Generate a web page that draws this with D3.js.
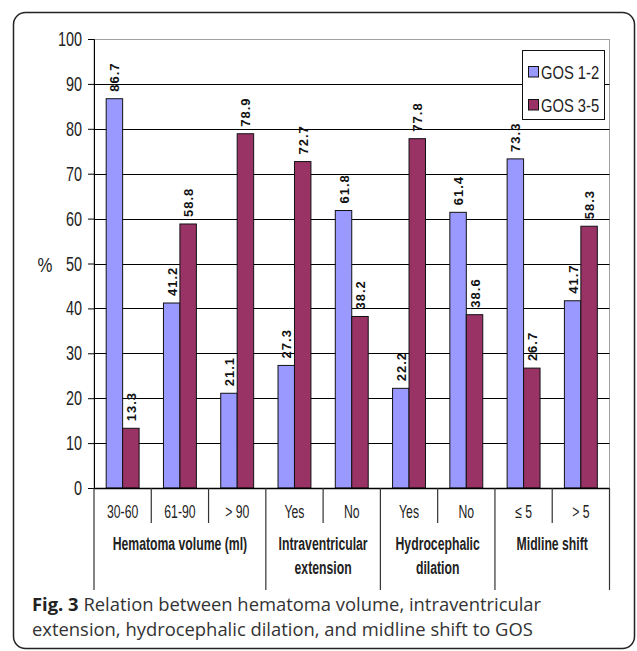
<!DOCTYPE html>
<html>
<head>
<meta charset="utf-8">
<script src="https://cdn.jsdelivr.net/npm/d3@7"></script>
<style>
  html, body { margin: 0; padding: 0; background: #fff; }
  svg { display: block; }
</style>
</head>
<body>
<svg id="chart" width="637" height="651"></svg>
<script>
// Outcome (GOS) by clinical / radiological finding, percent of patients
const categories = ["30-60", "61-90", "> 90", "Yes", "No", "Yes", "No", "\u2264 5", "> 5"];
const groups = [
  { label: ["Hematoma volume (ml)"], size: 3 },
  { label: ["Intraventricular", "extension"], size: 2 },
  { label: ["Hydrocephalic", "dilation"], size: 2 },
  { label: ["Midline shift"], size: 2 }
];
const seriesNames = ["GOS 1-2", "GOS 3-5"];
const gos12 = [86.7, 41.2, 21.1, 27.3, 61.8, 22.2, 61.4, 73.3, 41.7];
const gos35 = [13.3, 58.8, 78.9, 72.7, 38.2, 77.8, 38.6, 26.7, 58.3];
const yTicks = [0, 10, 20, 30, 40, 50, 60, 70, 80, 90, 100];
const colors = ["#9999FF", "#993366"];

const FONT = "Liberation Sans, Arial, sans-serif";
const svg = d3.select("#chart");

// Condensed text: regular sans squeezed horizontally
function narrowText(parent, x, y, str, opts) {
  const o = Object.assign({ size: 17, sx: 0.72, anchor: "start", weight: "normal", stroke: 0, fill: "#222" }, opts);
  const t = parent.append("text")
    .attr("transform", `translate(${x},${y}) scale(${o.sx},1)`)
    .attr("font-family", FONT)
    .attr("font-size", o.size)
    .attr("font-weight", o.weight)
    .attr("text-anchor", o.anchor)
    .attr("fill", o.fill)
    .text(str);
  if (o.stroke) t.attr("stroke", o.fill).attr("stroke-width", o.stroke);
  return t;
}

// Rounded figure frame
svg.append("rect")
  .attr("x", 13.5).attr("y", 12.5)
  .attr("width", 621).attr("height", 636)
  .attr("rx", 12).attr("ry", 12)
  .attr("fill", "none").attr("stroke", "#222").attr("stroke-width", 1.5);

const plot = { left: 94, right: 609.5, top: 39, bottom: 488 };

const x = d3.scaleBand().domain(d3.range(categories.length))
  .range([plot.left, plot.right]).paddingInner(0).paddingOuter(0);
const xs = d3.scaleBand().domain([0, 1]).range([0, x.bandwidth()]).paddingInner(0).paddingOuter(0.74);
const y = d3.scaleLinear().domain([0, 100]).range([plot.bottom, plot.top]);

// Plot area border (light) and gridlines
svg.append("rect")
  .attr("x", plot.left).attr("y", plot.top + 0.5)
  .attr("width", plot.right - plot.left).attr("height", plot.bottom - plot.top)
  .attr("fill", "none").attr("stroke", "#a0a0a0").attr("stroke-width", 1);

svg.append("g").selectAll("line")
  .data(yTicks.filter(t => t > 0 && t < 100))
  .join("line")
  .attr("x1", plot.left).attr("x2", plot.right)
  .attr("y1", d => Math.round(y(d)) + 0.5).attr("y2", d => Math.round(y(d)) + 0.5)
  .attr("stroke", "#000").attr("stroke-width", 1);

// Y axis line and ticks
const yAxis = d3.axisLeft(y).tickValues(yTicks).tickSize(6).tickFormat("");
const gy = svg.append("g").attr("transform", `translate(${plot.left},0)`).call(yAxis);
gy.select(".domain").attr("stroke", "#000");
gy.selectAll(".tick line").attr("stroke", "#000");
const gyl = svg.append("g");
yTicks.forEach(t => narrowText(gyl, 82, y(t) + 7, d3.format("d")(t), { size: 19.5, sx: 0.74, anchor: "end" }));

narrowText(svg, 45, 272, "%", { size: 21, sx: 0.8, anchor: "middle" });

// Bars
const series = [gos12, gos35];
series.forEach((vals, si) => {
  const g = svg.append("g");
  g.selectAll("rect")
    .data(vals)
    .join("rect")
    .attr("x", (d, i) => x(i) + xs(si))
    .attr("y", d => y(d))
    .attr("width", xs.bandwidth())
    .attr("height", d => y(0) - y(d))
    .attr("fill", colors[si])
    .attr("stroke", "#111").attr("stroke-width", 1);
  g.selectAll("text")
    .data(vals)
    .join("text")
    .attr("transform", (d, i) => `translate(${x(i) + xs(si) + xs.bandwidth() / 2 + 5},${y(d) - 7}) rotate(-90)`)
    .attr("font-family", FONT)
    .attr("font-weight", "bold").attr("font-size", 13)
    .attr("letter-spacing", 1)
    .attr("fill", "#111")
    .text(d => d.toFixed(1));
});

// X axis baseline
svg.append("line")
  .attr("x1", plot.left).attr("x2", plot.right)
  .attr("y1", plot.bottom + 0.5).attr("y2", plot.bottom + 0.5)
  .attr("stroke", "#000").attr("stroke-width", 1.5);

// Category separators and labels
const groupEdges = [0];
groups.forEach(gr => groupEdges.push(groupEdges[groupEdges.length - 1] + gr.size));
const edges = d3.range(categories.length + 1);
svg.append("g").selectAll("line")
  .data(edges)
  .join("line")
  .attr("x1", i => (i < categories.length ? x(i) : plot.right))
  .attr("x2", i => (i < categories.length ? x(i) : plot.right))
  .attr("y1", plot.bottom)
  .attr("y2", i => groupEdges.includes(i) ? 590 : 523)
  .attr("stroke", "#333").attr("stroke-width", 1.2);

const gc = svg.append("g");
categories.forEach((c, i) => narrowText(gc, x(i) + x.bandwidth() / 2, 518, c, { size: 18, sx: 0.68, anchor: "middle" }));

// Group labels
const gg = svg.append("g");
groups.forEach((gr, gi) => {
  const x0 = x(groupEdges[gi]);
  const x1 = groupEdges[gi + 1] < categories.length ? x(groupEdges[gi + 1]) : plot.right;
  gr.label.forEach((line, li) => {
    narrowText(gg, (x0 + x1) / 2, 550 + li * 24, line, { size: 18, sx: 0.68, anchor: "middle", weight: "bold" });
  });
});

// Legend
const legend = svg.append("g").attr("transform", "translate(522,50)");
legend.append("rect")
  .attr("x", 0.5).attr("y", 0.5).attr("width", 82).attr("height", 69)
  .attr("fill", "#fff").attr("stroke", "#111").attr("stroke-width", 1);
seriesNames.forEach((name, i) => {
  const ly = 22 + i * 33;
  legend.append("rect")
    .attr("x", 6.5).attr("y", ly - 5.5).attr("width", 10).attr("height", 10.5)
    .attr("fill", colors[i]).attr("stroke", "#111").attr("stroke-width", 1);
  narrowText(legend, 19, ly + 6.5, name, { size: 18, sx: 0.82 });
});

// Caption
const cap = svg.append("g")
  .attr("font-family", "Open Sans, Noto Sans, sans-serif")
  .attr("font-size", 18.4).attr("fill", "#333");
const l1 = cap.append("text").attr("x", 32).attr("y", 611);
l1.append("tspan").attr("font-weight", "bold").attr("fill", "#222").text("Fig. 3");
l1.append("tspan").text(" Relation between hematoma volume, intraventricular");
cap.append("text").attr("x", 32).attr("y", 636)
  .text("extension, hydrocephalic dilation, and midline shift to GOS");
</script>
</body>
</html>
